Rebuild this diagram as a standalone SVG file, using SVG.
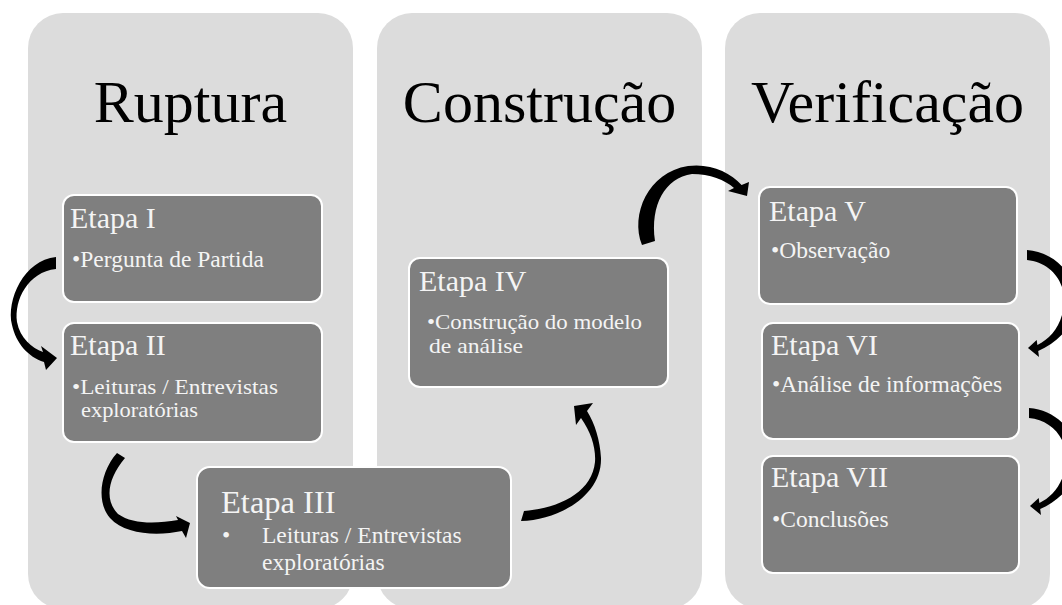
<svg xmlns="http://www.w3.org/2000/svg" width="1062" height="605" viewBox="0 0 1062 605">
<style>
.panel{fill:#dcdcdc}
text{font-family:'Liberation Serif','DejaVu Serif','Noto Serif',serif}
.title{font-size:60px;fill:#000;text-anchor:middle}
.box{fill:#7f7f7f;stroke:#ffffff;stroke-width:2}
.h{font-size:30px;fill:#f4f4f4}
.h3{font-size:32.5px;fill:#f4f4f4}
.b{font-size:23.5px;fill:#f4f4f4}
.b2{font-size:21px;fill:#f4f4f4}
.b4{font-size:22px;fill:#f4f4f4}
.arr{fill:#000}
</style>
<rect width="1062" height="605" fill="#ffffff"/>
<g id="panel-ruptura">
<rect class="panel" x="28" y="13" width="325" height="596" rx="35"/>
<text class="title" x="190.5" y="122">Ruptura</text>
</g>
<g id="panel-construcao">
<rect class="panel" x="377" y="13" width="325" height="596" rx="35"/>
<text class="title" x="539.5" y="122">Construção</text>
</g>
<g id="panel-verificacao">
<rect class="panel" x="725" y="13" width="325" height="596" rx="35"/>
<text class="title" x="887.5" y="122">Verificação</text>
</g>
<g id="etapa1">
<rect class="box" x="63" y="195" width="259" height="107" rx="11"/>
<text class="h" x="70" y="228">Etapa I</text>
<text class="b" x="72" y="267">•Pergunta de Partida</text>
</g>
<g id="etapa2">
<rect class="box" x="63" y="323" width="259" height="119" rx="11"/>
<text class="h" x="70" y="355">Etapa II</text>
<text class="b2" x="72" y="394" textLength="206" lengthAdjust="spacingAndGlyphs">•Leituras / Entrevistas</text>
<text class="b2" x="81" y="417" textLength="117" lengthAdjust="spacingAndGlyphs">exploratórias</text>
</g>
<g id="etapa3">
<rect class="box" x="197" y="467" width="314" height="121" rx="13"/>
<text class="h3" x="221" y="513">Etapa III</text>
<text class="b" x="222" y="543">•</text>
<text class="b" x="262" y="543">Leituras / Entrevistas</text>
<text class="b" x="262" y="570">exploratórias</text>
</g>
<g id="etapa4">
<rect class="box" x="409" y="258" width="259" height="129" rx="11"/>
<text class="h" x="419" y="291">Etapa IV</text>
<text class="b4" x="427" y="329" textLength="215" lengthAdjust="spacingAndGlyphs">•Construção do modelo</text>
<text class="b4" x="429" y="353" textLength="94" lengthAdjust="spacingAndGlyphs">de análise</text>
</g>
<g id="etapa5">
<rect class="box" x="759" y="187" width="258" height="117" rx="11"/>
<text class="h" x="769" y="221">Etapa V</text>
<text class="b" x="771" y="258">•Observação</text>
</g>
<g id="etapa6">
<rect class="box" x="762" y="323" width="257" height="116" rx="11"/>
<text class="h" x="771" y="355">Etapa VI</text>
<text class="b" x="772" y="392">•Análise de informações</text>
</g>
<g id="etapa7">
<rect class="box" x="762" y="456" width="257" height="117" rx="11"/>
<text class="h" x="771" y="487">Etapa VII</text>
<text class="b" x="772" y="527">•Conclusões</text>
</g>
<g id="connectors">
<path class="arr" d="M56,257 C24,260 6,300 12,325 C16,343 28,357 44,362 L46,370 L57,358 L41,346 L43,352 C32,348 20,338 17,322 C14,300 28,272 56,269 Z"/>
<path class="arr" d="M117,453 L125,458 C108,478 104,500 118,514 C132,524 155,524 178,520 L176,516 L190,523 L186,538 L182,531 C158,536 125,535 110,518 C96,502 100,472 117,453 Z"/>
<path class="arr" d="M521,521 C560,520 602,495 601,458 C600,440 595,424 587,411 L593,403 L574,406 L576,425 L581,418 C591,432 596,448 595,462 C592,492 560,508 524,511 Z"/>
<path class="arr" d="M642,245 C630,215 648,172 688,166 C710,163 730,172 741.6,185 L749,182 L747,196 L728,191 L734,188 C725,180 710,174 692,174 C665,178 650,205 655,241 Z"/>
<path class="arr" d="M1027,250 C1055,252 1076,275 1076,300 C1076,325 1058,342 1038.2,351 L1039,357 L1028,348 L1036.7,340 L1037.4,345 C1052,338 1064,322 1064,300 C1064,278 1048,262 1027,260 Z"/>
<path class="arr" transform="translate(2,158)" d="M1027,250 C1055,252 1076,275 1076,300 C1076,325 1058,342 1038.2,351 L1039,357 L1028,348 L1036.7,340 L1037.4,345 C1052,338 1064,322 1064,300 C1064,278 1048,262 1027,260 Z"/>
</g>
</svg>
